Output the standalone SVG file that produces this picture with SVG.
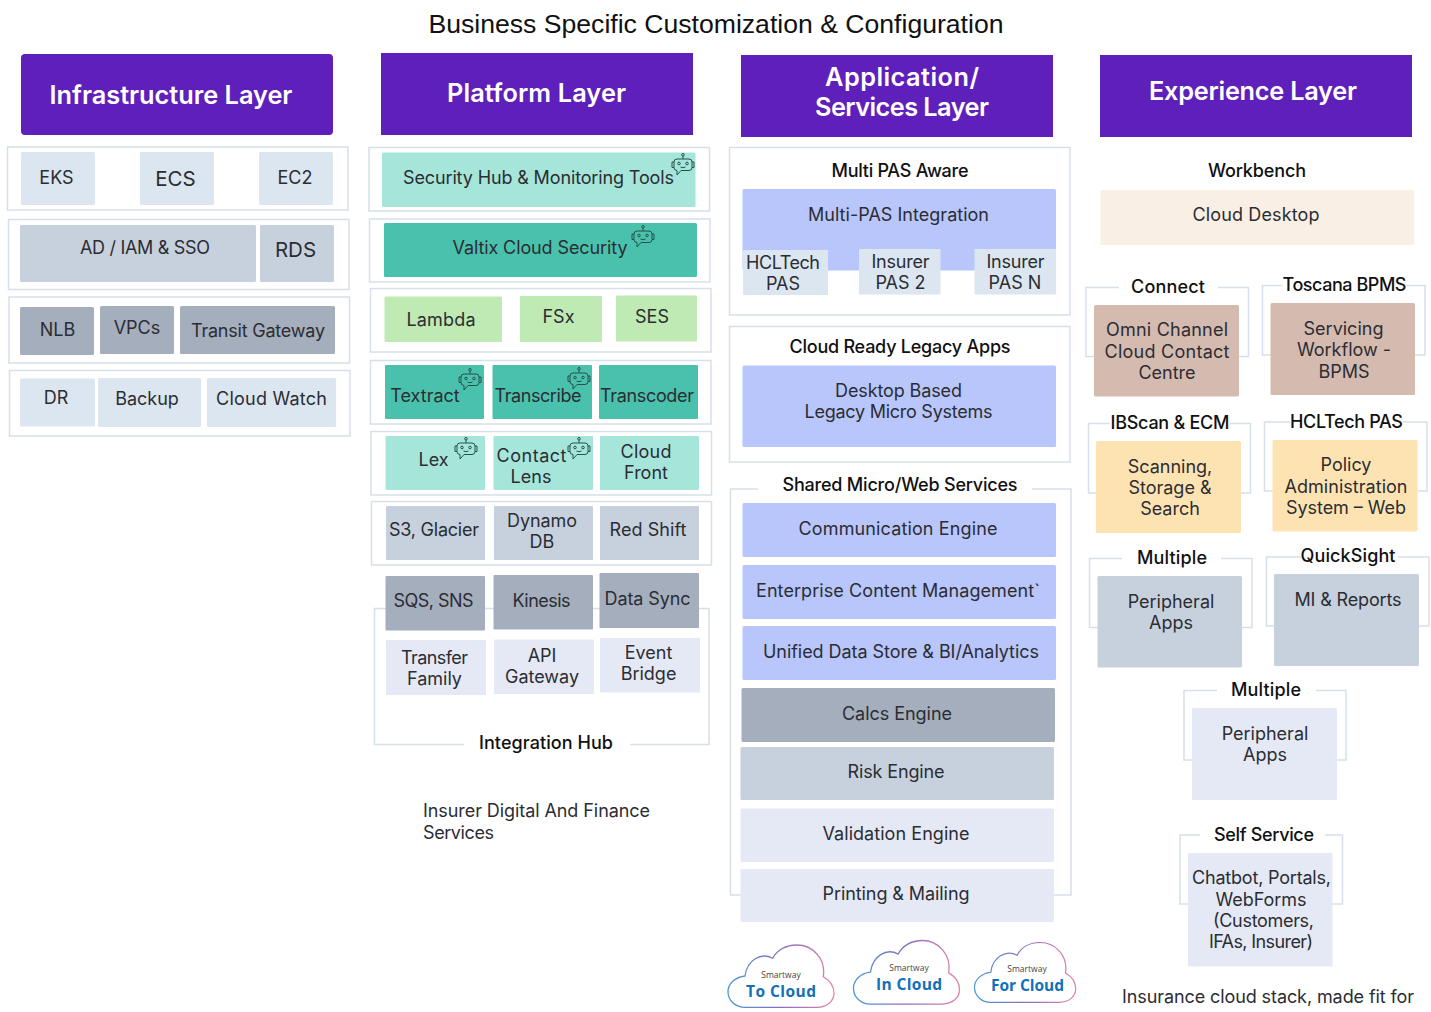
<svg xmlns="http://www.w3.org/2000/svg" width="1431" height="1012" viewBox="0 0 1431 1012">
<style>
text{font-family:"Inter","Noto Sans",sans-serif;font-size:18px;fill:#2b2d33;text-anchor:middle}
.hd{fill:#5f1fbb}.hdt{fill:#fff;font-size:25.300px;font-weight:600}
.fr{fill:#fff;stroke:#d6dfea;stroke-width:1.5}.ln{fill:none;stroke:#d6dfea;stroke-width:1.5}
.t{fill:#111;font-weight:500}
.a{fill:#dce6f1}.b{fill:#c7d1dd}.c{fill:#a5aebd}.d{fill:#a6e6da}.e{fill:#4ac1ac}.f{fill:#bfeab4}.g{fill:#e5e9f5}.h{fill:#b8c6fc}.i{fill:#d5baaf}.j{fill:#fee3b2}.k{fill:#f9efe4}
.cl{font-family:"Open Sans",sans-serif;fill:#1170b8;font-size:15.500px;font-weight:700}.sm{font-family:"Open Sans",sans-serif;fill:#444;font-size:8.500px}
.bot{fill:none;stroke:#24524b;stroke-width:1}
</style>
<defs>
<linearGradient id="cg" x1="0" y1="0" x2="1" y2="0"><stop offset="0" stop-color="#4a9ad4"/><stop offset=".5" stop-color="#8a6fc0"/><stop offset="1" stop-color="#e583a8"/></linearGradient>
<symbol id="robot" viewBox="0 0 24 24" width="24" height="24" overflow="visible"><g class="bot"><circle cx="12" cy="1.800" r="1.300"/><path d="M12 3.100V6"/><path d="M6 6H18Q21 6 21 9V14.500Q21 17.500 18 17.500H10L6 22V17.500Q3 17.500 3 14.500V9Q3 6 6 6Z"/><path d="M3 9H1V14.500H3M21 9H23V14.500H21"/><circle cx="8" cy="10.500" r="1.300"/><circle cx="16" cy="10.500" r="1.300"/><path d="M9.500 14Q12 15.400 14.500 14"/></g></symbol>
<path id="cloud" fill="#fff" stroke="url(#cg)" stroke-width="1.300" d="M17 62.300H88.700C99 62.300 106 56 106 48.300C106 41 101 35 95.300 31.700C98 14 85 0 68.700 0C58 0 49 5 44.700 13.300C33 7 19 15 17 31C7 32 0 39 0 46.700C0 56 8 62.300 17 62.300Z"/>
</defs>
<rect width="1431" height="1012" fill="#fff"/>
<text id="title" x="716" y="32.500" style="font-family:'Liberation Sans',sans-serif;font-size:26.500px;fill:#111" textLength="575" lengthAdjust="spacingAndGlyphs">Business Specific Customization &amp; Configuration</text>

<g id="infrastructure">
<g id="infra-header"><rect class="hd" x="21" y="54" width="312" height="81" rx="4"/><text class="hdt" x="171" y="104">Infrastructure Layer</text></g>
<rect class="fr" x="7.500" y="147" width="340.500" height="63"/>
<g id="eks"><rect class="a" x="21" y="152" width="74" height="53" rx="1.500"/><text x="56.500" y="184">EKS</text></g>
<g id="ecs"><rect class="a" x="140" y="152" width="74" height="53" rx="1.500"/><text x="175.500" y="186" style="font-size:20.500px">ECS</text></g>
<g id="ec2"><rect class="a" x="259" y="152" width="74" height="53" rx="1.500"/><text x="295" y="184">EC2</text></g>
<rect class="fr" x="8.500" y="219.500" width="340.500" height="70"/>
<g id="ad"><rect class="b" x="20" y="225" width="236" height="57" rx="1.500"/><text x="145" y="254" textLength="130">AD / IAM &amp; SSO</text></g>
<g id="rds"><rect class="b" x="260" y="225" width="74" height="57" rx="1.500"/><text x="295.500" y="257" style="font-size:20.500px">RDS</text></g>
<rect class="fr" x="9" y="297" width="340.500" height="66"/>
<g id="nlb"><rect class="c" x="20" y="307" width="74" height="48" rx="1.500"/><text x="57.500" y="336">NLB</text></g>
<g id="vpcs"><rect class="c" x="100" y="306" width="74" height="48" rx="1.500"/><text x="137" y="334">VPCs</text></g>
<g id="transit"><rect class="c" x="180" y="306" width="155" height="48" rx="1.500"/><text x="258" y="337" textLength="134">Transit Gateway</text></g>
<rect class="fr" x="9.500" y="370.500" width="340.500" height="65.500"/>
<g id="dr"><rect class="a" x="20" y="378.500" width="75" height="48" rx="1.500"/><text x="56" y="404">DR</text></g>
<g id="backup"><rect class="a" x="98" y="378" width="103" height="49" rx="1.500"/><text x="147" y="405">Backup</text></g>
<g id="cloudwatch"><rect class="a" x="207" y="378" width="129" height="49" rx="1.500"/><text x="271.500" y="405" textLength="111">Cloud Watch</text></g>
</g>

<g id="platform">
<g id="platform-header"><rect class="hd" x="381" y="53" width="312" height="82"/><text class="hdt" x="536.500" y="102" textLength="179">Platform Layer</text></g>
<rect class="fr" x="369" y="147.500" width="340.500" height="63.500"/>
<g id="securityhub"><rect class="d" x="382" y="152.500" width="313.500" height="54.500" rx="1.500"/><text x="538.500" y="184" textLength="271">Security Hub &amp; Monitoring Tools</text><use href="#robot" x="671" y="153"/></g>
<rect class="fr" x="369.500" y="219" width="340.500" height="63"/>
<g id="valtix"><rect class="e" x="384" y="223" width="313" height="54" rx="1.500"/><text x="540" y="254" textLength="175">Valtix Cloud Security</text><use href="#robot" x="631" y="225"/></g>
<rect class="fr" x="370.500" y="288.500" width="340.500" height="63.500"/>
<g id="lambda"><rect class="f" x="384.500" y="296.500" width="117.500" height="45.500" rx="1"/><text x="441" y="326" textLength="69">Lambda</text></g>
<g id="fsx"><rect class="f" x="520" y="296" width="82" height="46" rx="1"/><text x="558.500" y="323">FSx</text></g>
<g id="ses"><rect class="f" x="616" y="295.500" width="81" height="46" rx="1"/><text x="652" y="323">SES</text></g>
<rect class="fr" x="370.500" y="360.500" width="340.500" height="63.500"/>
<g id="textract"><rect class="e" x="385" y="365" width="99" height="54" rx="1"/><text x="425" y="402">Textract</text><use href="#robot" x="458" y="368"/></g>
<g id="transcribe"><rect class="e" x="492.500" y="365" width="99.500" height="54" rx="1"/><text x="538" y="402" textLength="87">Transcribe</text><use href="#robot" x="567" y="367"/></g>
<g id="transcoder"><rect class="e" x="599" y="365" width="99" height="54" rx="1"/><text x="647" y="402" textLength="94">Transcoder</text></g>
<rect class="fr" x="371" y="431.500" width="340.500" height="63.500"/>
<g id="lex"><rect class="d" x="385.500" y="436" width="99.500" height="54" rx="1"/><text x="433.500" y="466">Lex</text><use href="#robot" x="454" y="437"/></g>
<g id="contactlens"><rect class="d" x="493.500" y="436" width="99.500" height="54" rx="1"/><text x="531.500" y="462" textLength="70">Contact</text><text x="531" y="483">Lens</text><use href="#robot" x="567" y="437"/></g>
<g id="cloudfront"><rect class="d" x="600" y="436" width="99" height="54" rx="1"/><text x="646" y="458" textLength="51">Cloud</text><text x="646" y="479">Front</text></g>
<rect class="fr" x="371.500" y="501.500" width="340" height="63.500"/>
<g id="s3"><rect class="b" x="386" y="506" width="99" height="54" rx="1"/><text x="434" y="536" textLength="90">S3, Glacier</text></g>
<g id="dynamo"><rect class="b" x="494" y="506" width="99" height="54" rx="1"/><text x="542" y="527" textLength="70">Dynamo</text><text x="542" y="548">DB</text></g>
<g id="redshift"><rect class="b" x="600" y="506" width="99" height="54" rx="1"/><text x="648" y="536" textLength="77">Red Shift</text></g>
<g id="integration-hub">
<path class="ln" d="M464 744.500H374.500V608.500H709V744.500H630"/>
<text class="t" x="546" y="749" textLength="134">Integration Hub</text>
</g>
<g id="sqs"><rect class="c" x="385.500" y="576" width="99.500" height="54.500" rx="1"/><text x="433.500" y="607" textLength="80">SQS, SNS</text></g>
<g id="kinesis"><rect class="c" x="493.500" y="575" width="99.500" height="54.500" rx="1"/><text x="541.500" y="607" textLength="58">Kinesis</text></g>
<g id="datasync"><rect class="c" x="599.500" y="573" width="99.500" height="55" rx="1"/><text x="647.500" y="605" textLength="86">Data Sync</text></g>
<g id="transfer"><rect class="g" x="386" y="640" width="100" height="55" rx="1"/><text x="434.500" y="664" textLength="67">Transfer</text><text x="434.500" y="685">Family</text></g>
<g id="apigw"><rect class="g" x="494" y="639.500" width="100" height="54.500" rx="1"/><text x="542" y="662">API</text><text x="542" y="683" textLength="74">Gateway</text></g>
<g id="eventbridge"><rect class="g" x="600" y="638" width="100" height="54.500" rx="1"/><text x="648.500" y="659">Event</text><text x="648.500" y="680">Bridge</text></g>
<text id="insurer-note" style="text-anchor:start" x="423" y="817" textLength="227">Insurer Digital And Finance</text><text id="insurer-note2" style="text-anchor:start" x="423" y="839" textLength="71">Services</text>
</g>

<g id="application">
<g id="app-header"><rect class="hd" x="741" y="55" width="312" height="82"/><text class="hdt" x="902" y="86" textLength="154">Application/</text><text class="hdt" x="902" y="116" textLength="174">Services Layer</text></g>
<rect class="fr" x="729.500" y="147.500" width="340.500" height="167.500"/>
<text class="t" x="900" y="177" textLength="137">Multi PAS Aware</text>
<g id="multipas"><rect class="h" x="742.500" y="189" width="313.500" height="81.500" rx="1.500"/><text x="898.500" y="221" textLength="181">Multi-PAS Integration</text></g>
<g id="hclpas"><rect class="a" x="743" y="250" width="85" height="45"/><text x="783" y="269" textLength="74">HCLTech</text><text x="783" y="290">PAS</text></g>
<g id="pas2"><rect class="a" x="859" y="249" width="81.500" height="45.500"/><text x="900.500" y="268" textLength="58">Insurer</text><text x="900.500" y="289">PAS 2</text></g>
<g id="pasn"><rect class="a" x="974.500" y="249" width="81.500" height="45.500"/><text x="1015.500" y="268" textLength="58">Insurer</text><text x="1015" y="289">PAS N</text></g>
<rect class="fr" x="729.500" y="326.500" width="340.500" height="135.500"/>
<text class="t" x="900" y="353" textLength="221">Cloud Ready Legacy Apps</text>
<g id="legacy"><rect class="h" x="742.500" y="365.500" width="313.500" height="81.500" rx="1.500"/><text x="898.500" y="397" textLength="127">Desktop Based</text><text x="898.500" y="418" textLength="188">Legacy Micro Systems</text></g>
<path class="ln" d="M758 489H730.500V895H1071V489H1032"/>
<text class="t" x="900" y="491" textLength="235">Shared Micro/Web Services</text>
<g id="comm"><rect class="h" x="742.500" y="503" width="313.500" height="54" rx="1.500"/><text x="898" y="535" textLength="199">Communication Engine</text></g>
<g id="ecm"><rect class="h" x="742.500" y="565" width="313.500" height="54" rx="1.500"/><text x="898" y="597" textLength="284">Enterprise Content Management`</text></g>
<g id="uds"><rect class="h" x="742.500" y="626" width="313.500" height="54" rx="1.500"/><text x="901" y="658" textLength="276">Unified Data Store &amp; BI/Analytics</text></g>
<g id="calcs"><rect class="c" x="741.500" y="688" width="313.500" height="54" rx="1.500"/><text x="897" y="720" textLength="110">Calcs Engine</text></g>
<g id="risk"><rect class="b" x="740.500" y="747" width="313.500" height="53" rx="1.500"/><text x="896" y="778" textLength="97">Risk Engine</text></g>
<g id="validation"><rect class="g" x="740.500" y="808.500" width="313.500" height="53.500" rx="1.500"/><text x="896" y="840" textLength="147">Validation Engine</text></g>
<g id="printing"><rect class="g" x="740.500" y="869" width="313.500" height="53" rx="1.500"/><text x="896" y="900" textLength="147">Printing &amp; Mailing</text></g>
<g id="tocloud"><use href="#cloud" transform="translate(728,945)"/><text class="sm" x="781" y="978">Smartway</text><text class="cl" x="781" y="997" textLength="70">To Cloud</text></g>
<g id="incloud"><use href="#cloud" transform="translate(853.500,940.500) scale(1,1.020)"/><text class="sm" x="909" y="971">Smartway</text><text class="cl" x="909" y="990" textLength="66">In Cloud</text></g>
<g id="forcloud"><use href="#cloud" transform="translate(974.500,942.500) scale(.955,.960)"/><text class="sm" x="1027" y="972">Smartway</text><text class="cl" x="1027.500" y="991" textLength="73">For Cloud</text></g>
</g>

<g id="experience">
<g id="exp-header"><rect class="hd" x="1100" y="55" width="312" height="82"/><text class="hdt" x="1253" y="100" textLength="208">Experience Layer</text></g>
<text class="t" x="1257" y="177" textLength="98">Workbench</text>
<g id="desktop"><rect class="k" x="1100.500" y="190" width="313.500" height="55" rx="1.500"/><text x="1256" y="221" textLength="127">Cloud Desktop</text></g>
<g id="connect"><path class="ln" d="M1119 287.500H1086V356.500H1248.500V287.500H1218"/><rect class="i" x="1094" y="305" width="145" height="91.500" rx="1.500"/><text class="t" x="1168" y="293" textLength="74">Connect</text><text x="1167" y="336" textLength="122">Omni Channel</text><text x="1167" y="358" textLength="125">Cloud Contact</text><text x="1167" y="379">Centre</text></g>
<g id="toscana"><path class="ln" d="M1282 285.500H1262.500V355H1425V285.500H1406"/><rect class="i" x="1270.500" y="303" width="144.500" height="92" rx="1.500"/><text class="t" x="1344.500" y="291" textLength="124">Toscana BPMS</text><text x="1343.500" y="335">Servicing</text><text x="1344" y="356">Workflow -</text><text x="1344" y="378">BPMS</text></g>
<g id="ibscan"><path class="ln" d="M1110 423.500H1088.500V493H1250.500V423.500H1230"/><rect class="j" x="1096" y="441" width="145" height="92" rx="1.500"/><text class="t" x="1170" y="429" textLength="119">IBScan &amp; ECM</text><text x="1170" y="473">Scanning,</text><text x="1170" y="494">Storage &amp;</text><text x="1170" y="515">Search</text></g>
<g id="hclpas2"><path class="ln" d="M1290 422H1264.500V491H1427V422H1403"/><rect class="j" x="1272.500" y="440" width="145" height="91.500" rx="1.500"/><text class="t" x="1346.500" y="428" textLength="113">HCLTech PAS</text><text x="1346" y="471">Policy</text><text x="1346" y="493" textLength="123">Administration</text><text x="1346" y="514" textLength="120">System – Web</text></g>
<g id="multiple1"><path class="ln" d="M1122 558.500H1089.500V627.500H1252V558.500H1221"/><rect class="b" x="1097.500" y="576" width="144.500" height="91.500" rx="1.500"/><text class="t" x="1172" y="564" textLength="70">Multiple</text><text x="1171" y="608">Peripheral</text><text x="1171" y="629">Apps</text></g>
<g id="quicksight"><path class="ln" d="M1301 557H1266.500V626H1429V557H1398"/><rect class="b" x="1274" y="574" width="145" height="92" rx="1.500"/><text class="t" x="1348" y="562" textLength="95">QuickSight</text><text x="1348" y="606" textLength="107">MI &amp; Reports</text></g>
<g id="multiple2"><path class="ln" d="M1217 690.500H1184V760H1346V690.500H1316"/><rect class="g" x="1192" y="708" width="145" height="92" rx="1.500"/><text class="t" x="1266" y="696" textLength="70">Multiple</text><text x="1265" y="740">Peripheral</text><text x="1265" y="761">Apps</text></g>
<g id="selfservice"><path class="ln" d="M1200 835H1180V904H1342.500V835H1325"/><rect class="g" x="1188" y="853" width="144.500" height="113.500" rx="1.500"/><text class="t" x="1264" y="841" textLength="100">Self Service</text><text x="1261.500" y="884" textLength="139">Chatbot, Portals,</text><text x="1261" y="906" textLength="91">WebForms</text><text x="1263.500" y="927" textLength="101">(Customers,</text><text x="1261" y="948" textLength="104">IFAs, Insurer)</text></g>
<text id="stack-note" x="1268" y="1003" textLength="292">Insurance cloud stack, made fit for</text>
</g>
</svg>
